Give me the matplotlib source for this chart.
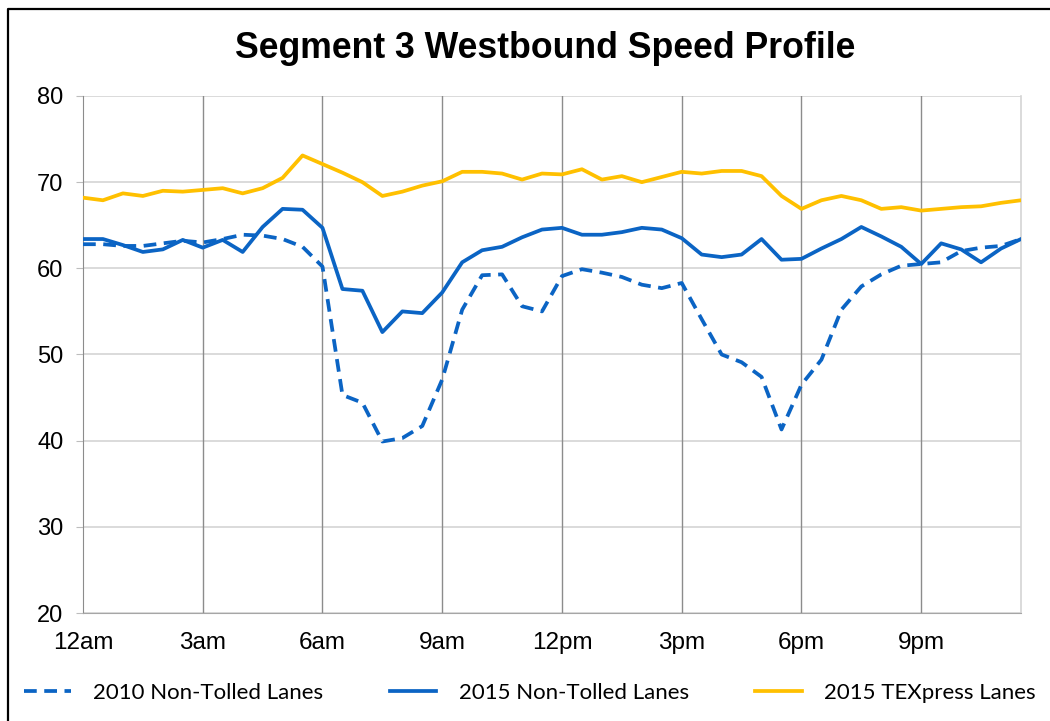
import matplotlib
matplotlib.use("Agg")
import matplotlib.pyplot as plt
from matplotlib.lines import Line2D
import numpy as np

# half-hour intervals, 12am .. 11:30pm
slots = np.arange(48)
tick_pos = [0, 6, 12, 18, 24, 30, 36, 42]
tick_labels = ["12am", "3am", "6am", "9am", "12pm", "3pm", "6pm", "9pm"]

speed_2010_nt = [62.8, 62.8, 62.6, 62.6, 62.9, 63.2, 63.0, 63.4, 63.9, 63.8, 63.4, 62.5,
                 60.2, 45.3, 44.4, 39.9, 40.3, 41.7, 47.1, 55.2, 59.2, 59.3, 55.6, 55.0,
                 59.1, 59.9, 59.5, 59.0, 58.1, 57.7, 58.3, 54.1, 50.0, 49.1, 47.4, 41.3,
                 46.5, 49.4, 55.2, 57.9, 59.3, 60.3, 60.5, 60.7, 62.0, 62.4, 62.6, 63.4]

speed_2015_nt = [63.4, 63.4, 62.7, 61.9, 62.2, 63.3, 62.4, 63.3, 61.9, 64.8, 66.9, 66.8,
                 64.7, 57.6, 57.4, 52.6, 55.0, 54.8, 57.2, 60.7, 62.1, 62.5, 63.6, 64.5,
                 64.7, 63.9, 63.9, 64.2, 64.7, 64.5, 63.5, 61.6, 61.3, 61.6, 63.4, 61.0,
                 61.1, 62.3, 63.4, 64.8, 63.7, 62.5, 60.5, 62.9, 62.2, 60.7, 62.3, 63.4]

speed_2015_tex = [68.2, 67.9, 68.7, 68.4, 69.0, 68.9, 69.1, 69.3, 68.7, 69.3, 70.5, 73.1,
                  72.1, 71.1, 70.0, 68.4, 68.9, 69.6, 70.1, 71.2, 71.2, 71.0, 70.3, 71.0,
                  70.9, 71.5, 70.3, 70.7, 70.0, 70.6, 71.2, 71.0, 71.3, 71.3, 70.7, 68.4,
                  66.9, 67.9, 68.4, 67.9, 66.9, 67.1, 66.7, 66.9, 67.1, 67.2, 67.6, 67.9]

blue = "#0B64C4"
gold = "#FFC000"

fig = plt.figure(figsize=(10.5, 7.21), dpi=100)
ax = fig.add_axes([83 / 1050, 1 - 613 / 721, (1021 - 83) / 1050, (613 - 96) / 721])

ax.plot(slots, speed_2010_nt, color=blue, lw=2.7, dashes=(3.4, 2.0),
        label="2010 Non-Tolled Lanes", zorder=3)
ax.plot(slots, speed_2015_nt, color=blue, lw=2.7, label="2015 Non-Tolled Lanes", zorder=3)
ax.plot(slots, speed_2015_tex, color=gold, lw=2.7, label="2015 TEXpress Lanes", zorder=3)

ax.set_xlim(0, 47)
ax.set_ylim(20, 80)
ax.set_yticks(range(20, 81, 10))
ax.set_xticks(tick_pos)
ax.set_xticklabels(tick_labels)

# gridlines: darker verticals, light horizontals
for p in tick_pos[1:]:
    ax.axvline(p, color="#8c8c8c", lw=1.0, zorder=1)
ax.yaxis.grid(True, color="#d4d4d4", lw=1.2, zorder=0)
ax.set_axisbelow(True)

for s in ["top", "right"]:
    ax.spines[s].set_color("#d4d4d4")
    ax.spines[s].set_linewidth(1.2)
ax.spines["left"].set_color("#8c8c8c")
ax.spines["bottom"].set_color("#a6a6a6")
ax.spines["top"].set_visible(False)

tick_font = ["Liberation Sans", "DejaVu Sans"]
ax.tick_params(axis="y", length=5, color="#bdbdbd", pad=9, labelsize=17)
ax.tick_params(axis="x", length=0, pad=14, labelsize=17.5)
for lab in ax.get_xticklabels() + ax.get_yticklabels():
    lab.set_family(tick_font)

fig.text(545 / 1050, 1 - 48 / 721, "Segment 3 Westbound Speed Profile",
         ha="center", va="center", fontsize=25.7, fontweight="bold",
         family=["Liberation Sans", "DejaVu Sans"])

leg = fig.legend(loc="center", bbox_to_anchor=(530 / 1050, 1 - 693 / 721), ncol=3,
                 frameon=False, prop={"family": "Lato", "size": 16},
                 handlelength=2.1, handletextpad=1.0, columnspacing=3.0)

# outer frame (left and top edges visible)
fig.add_artist(Line2D([8 / 1050, 8 / 1050, 1.0], [0.0, 1 - 9 / 721, 1 - 9 / 721],
                      transform=fig.transFigure, color="black", lw=1.6))

fig.savefig("out.png", dpi=100)
